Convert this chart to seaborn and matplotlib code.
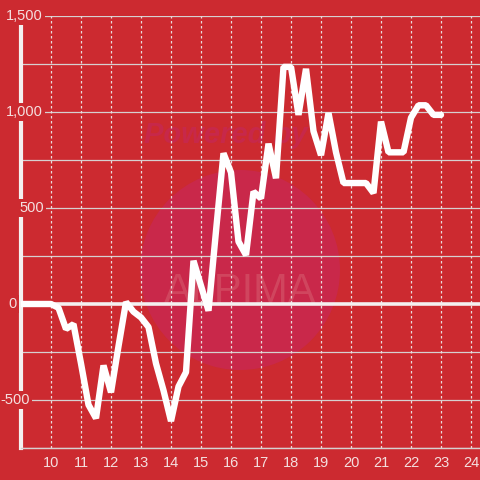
"""Intraday P&L line on a red card, rebuilt with seaborn"""

import pandas as pd
import seaborn as sns
import matplotlib.transforms as mtransforms
from matplotlib import pyplot as plt
from matplotlib.patches import Circle

# hour of day (quarter-hour steps) and the value
hours = [9.0, 10.0, 10.25, 10.5, 10.75, 11.0, 11.25, 11.5, 11.75, 12.0,
         12.25, 12.5, 12.75, 13.0, 13.25, 13.5, 13.75, 14.0, 14.25, 14.5,
         14.75, 15.0, 15.25, 15.5, 15.75, 16.0, 16.25, 16.5, 16.75, 17.0,
         17.25, 17.5, 17.75, 18.0, 18.25, 18.5, 18.75, 19.0, 19.25, 19.5,
         19.75, 20.0, 20.25, 20.5, 20.75, 21.0, 21.25, 21.5, 21.75, 22.0,
         22.25, 22.5, 22.75, 23.0]
values = [0, 0, -20, -130, -105, -310, -525, -595, -320, -460,
          -220, 10, -40, -70, -120, -310, -450, -610, -430, -355,
          225, 95, -35, 380, 785, 685, 325, 255, 585, 550,
          835, 655, 1235, 1235, 985, 1225, 900, 775, 995, 790,
          630, 630, 630, 630, 578, 950, 790, 790, 790, 970,
          1035, 1035, 985, 985]

x_ticks = list(range(10, 25))
y_grid = [-750, -500, -250, 0, 250, 500, 750, 1000, 1250, 1500]
y_labels = ["1,500", "1,000", "500", "0", "-500"]
y_label_values = [1500, 1000, 500, 0, -500]

bg = "#cc2a30"
text_color = "#f4dfdf"

df = pd.DataFrame({"hour": hours, "value": values})

sns.set_style("white")
plt.rcParams["font.family"] = ["Liberation Sans", "DejaVu Sans"]

fig = plt.figure(figsize=(4.8, 4.8), dpi=100, facecolor=bg)
ax = fig.add_axes([21 / 480, 1 - 448 / 480, 459 / 480, 432 / 480])
ax.set_facecolor("none")

# faint "Powered by ALPIMA" watermark behind the plot
fig.patches.append(Circle((0.5, 1 - 270 / 480), 100 / 480, transform=fig.transFigure,
                          facecolor="#c9284a", edgecolor="none", zorder=-1))
fig.text(0.47, 1 - 135 / 480, "Powered by", color="#c7284a", fontsize=21,
         fontweight="bold", style="italic", ha="center", va="center", zorder=-0.5)
fig.text(0.5, 1 - 292 / 480, "ALPIMA", color="#d65a6c", fontsize=30,
         ha="center", va="center", zorder=-0.5, alpha=0.6)

ax.set_xlim(9, 9 + 459 / 30)
ax.set_ylim(-750, 1500)

for v in y_grid:
    if v == 0:
        continue
    ax.axhline(v, color="#d6d0d0", lw=0.9, zorder=1)
for t in x_ticks:
    ax.axvline(t, color="#eadcdc", lw=0.9, ls=(0, (2, 2)), zorder=1)
ax.axhline(0, color="#f4f0f0", lw=2.6, zorder=2)

sns.lineplot(data=df, x="hour", y="value", ax=ax, color="white", lw=4.6,
             zorder=4, solid_joinstyle="bevel")

ax.set_xticks(x_ticks)
ax.set_xticklabels([str(t) for t in x_ticks])
ax.set_yticks([])
ax.tick_params(axis="x", length=0, pad=6, labelsize=10.5, labelcolor=text_color)
ax.set_xlabel("")
ax.set_ylabel("")

for side in ["top", "right"]:
    ax.spines[side].set_visible(False)
ax.spines["left"].set_color("#f4f0f0")
ax.spines["left"].set_linewidth(3)
ax.spines["bottom"].set_color("#d6d0d0")
ax.spines["bottom"].set_linewidth(1)

# y labels sit over the axis line with a red box behind them
label_right = [43, 43, 44, 17, 30]
trans = mtransforms.blended_transform_factory(fig.transFigure, ax.transData)
for lab, v, r in zip(y_labels, y_label_values, label_right):
    fig.text(r / 480, v, lab, transform=trans, ha="right", va="center",
             fontsize=10.5, color=text_color,
             bbox=dict(facecolor=bg, edgecolor="none", pad=1.5))

plt.savefig("out.png", dpi=100, facecolor=bg)
